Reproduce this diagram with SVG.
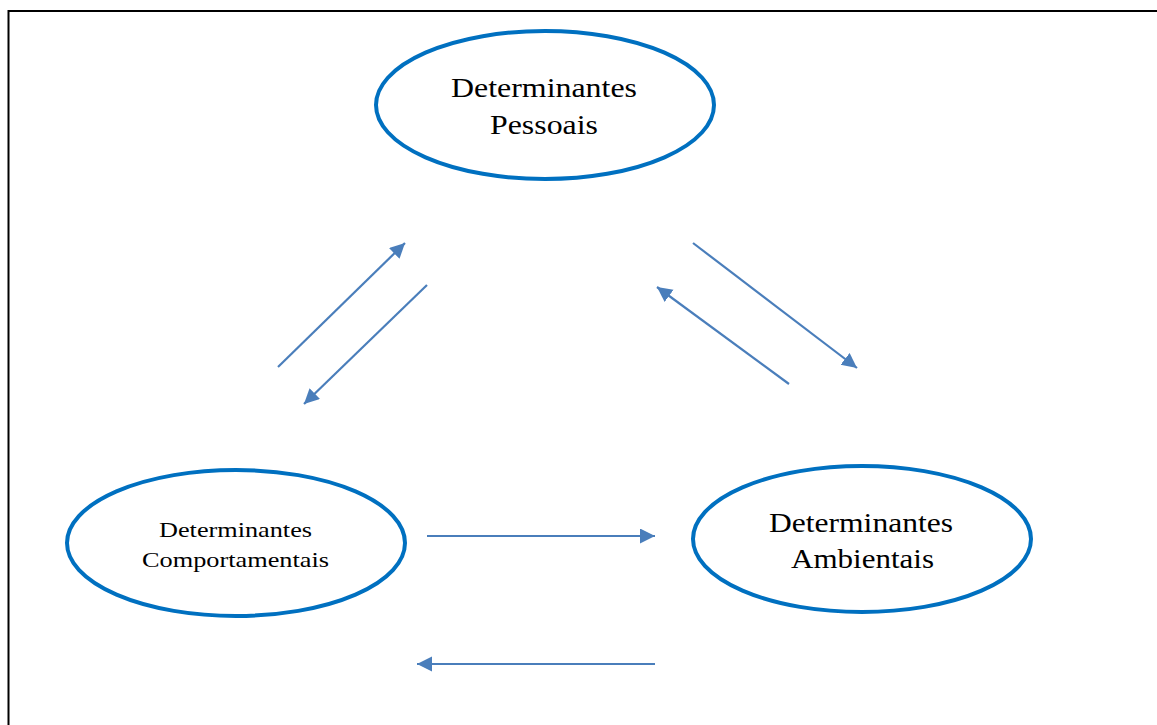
<svg xmlns="http://www.w3.org/2000/svg" width="1157" height="725" viewBox="0 0 1157 725">
<style>
.node ellipse{fill:#fff;stroke:#0070C0;stroke-width:4}
.lbl{font-family:"Liberation Serif","Times New Roman",serif;fill:#000;text-anchor:middle}
.big{font-size:28px}
.small{font-size:22px}
.conn line{stroke:#4A7EBB;stroke-width:2.2;marker-end:url(#ah)}
</style>
<defs>
<marker id="ah" markerUnits="userSpaceOnUse" markerWidth="16" markerHeight="16" refX="15" refY="7.5" orient="auto">
<path d="M0,0 L15,7.5 L0,15 z" fill="#4A7EBB"/>
</marker>
</defs>
<rect width="1157" height="725" fill="#fff"/>
<path d="M8.5,725 V11 H1157" fill="none" stroke="#000" stroke-width="2"/>
<g id="pessoais" class="node">
<ellipse cx="545" cy="105" rx="169" ry="74"/>
<text class="lbl big" x="544" y="97" textLength="186" lengthAdjust="spacingAndGlyphs">Determinantes</text>
<text class="lbl big" x="544" y="134" textLength="108" lengthAdjust="spacingAndGlyphs">Pessoais</text>
</g>
<g id="comportamentais" class="node">
<ellipse cx="236" cy="543" rx="169" ry="73"/>
<text class="lbl small" x="235.5" y="537" textLength="153" lengthAdjust="spacingAndGlyphs">Determinantes</text>
<text class="lbl small" x="235.5" y="567" textLength="187" lengthAdjust="spacingAndGlyphs">Comportamentais</text>
</g>
<g id="ambientais" class="node">
<ellipse cx="862" cy="539" rx="169" ry="73"/>
<text class="lbl big" x="861" y="532" textLength="184" lengthAdjust="spacingAndGlyphs">Determinantes</text>
<text class="lbl big" x="862.5" y="568" textLength="143" lengthAdjust="spacingAndGlyphs">Ambientais</text>
</g>
<g id="connectors" class="conn">
<line x1="278" y1="367" x2="405" y2="243"/>
<line x1="427" y1="285" x2="304" y2="404"/>
<line x1="693" y1="243" x2="857" y2="368"/>
<line x1="789" y1="384" x2="657" y2="287"/>
<line x1="427" y1="536" x2="655" y2="536"/>
<line x1="655" y1="664" x2="417" y2="664"/>
</g>
</svg>
